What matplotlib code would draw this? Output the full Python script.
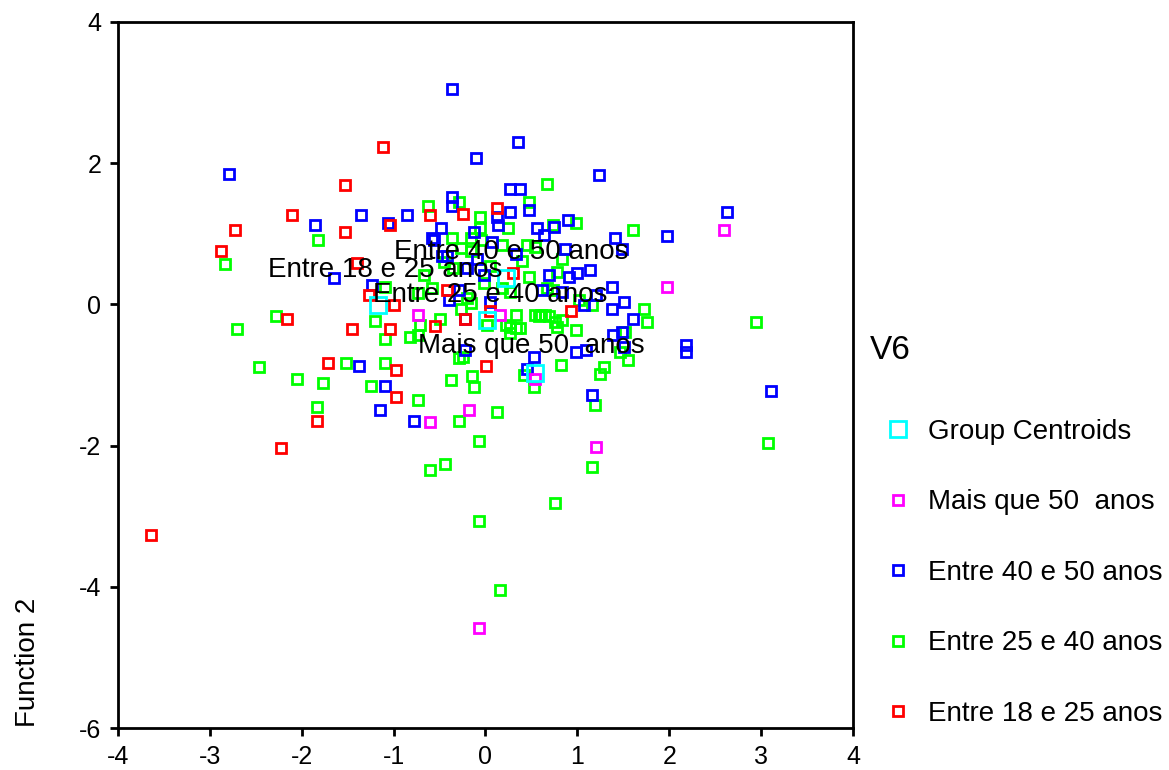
import matplotlib
matplotlib.use("Agg")
import matplotlib.pyplot as plt
from matplotlib.lines import Line2D

plt.rcParams['font.family'] = ['Liberation Sans', 'DejaVu Sans']
plt.rcParams['axes.unicode_minus'] = False

# ---- data (Function 1, Function 2) per group ----
red_x = [-2.88, -2.73, -2.11, -1.53, -1.53, -1.12, -1.40, -2.16, -1.45, -1.71, -1.83, -2.23, -3.64,
         -1.04, -0.60, -0.24, 0.12, 0.30, -1.27, -1.00, -0.22, 0.05, -1.04, -0.55, 0.93, 0.01,
         -0.97, -0.97, -0.42]
red_y = [0.76, 1.05, 1.27, 1.69, 1.02, 2.23, 0.58, -0.20, -0.35, -0.83, -1.65, -2.04, -3.26,
         1.12, 1.27, 1.28, 1.36, 0.44, 0.13, -0.01, -0.20, -0.09, -0.35, -0.31, -0.09, -0.87,
         -1.31, -0.93, 0.20]

mag_x = [2.60, 1.98, -0.74, 0.16, 0.54, -0.18, -0.60, 1.20, -0.07]
mag_y = [1.05, 0.24, -0.15, -0.15, -1.05, -1.50, -1.67, -2.02, -4.58]

blue_x = [-2.79, -1.86, -1.36, -1.65, -1.38, -0.36, 0.35, -0.10, 1.24, 0.27, 0.38, -0.36, -0.36,
          0.47, 0.27, -0.85, -1.06, 0.13, 0.14, 0.56, 0.90, -0.48, -0.13, -0.58, 0.64, 2.63,
          1.98, 1.41, 2.18, 2.18, 3.11, 1.38, 1.51, 1.38, 1.61, 1.39, 1.51, 1.16, 1.14, -1.23,
          1.00, 0.91, 1.07, 0.98, 1.09, 0.53, 0.45, -0.22, -0.78, -1.15, -1.09, -0.56, 0.07,
          -0.42, -0.47, -0.09, -0.20, -0.02, -0.29, -0.40, 0.05, 0.75, 0.33, 1.49, 0.87, 0.69,
          1.20, 0.62, 0.83, 1.49, -0.22]
blue_y = [1.85, 1.12, 1.27, 0.38, -0.87, 3.05, 2.30, 2.08, 1.83, 1.64, 1.64, 1.52, 1.40,
          1.34, 1.31, 1.27, 1.16, 1.24, 1.12, 1.08, 1.20, 1.08, 1.02, 0.94, 0.98, 1.31,
          0.97, 0.94, -0.57, -0.67, -1.23, 0.25, 0.04, -0.06, -0.20, -0.43, -0.60, -1.28, 0.49, 0.27,
          0.44, 0.39, -0.01, -0.67, -0.65, -0.74, -0.91, -0.65, -1.65, -1.50, -1.16, 0.91, 0.89,
          0.68, 0.68, 0.65, 0.51, 0.42, 0.20, 0.06, 0.04, 1.10, 0.72, 0.79, 0.79, 0.42,
          0.13, 0.20, 0.18, -0.39, -0.20]

green_x = [-1.82, -2.84, -2.28, -2.71, -1.52, -2.46, -2.05, -1.77, -1.83, -0.60, -0.44, -0.07,
           -0.07, 0.16, 0.76, 1.16, 3.07, 0.67, -0.29, -0.63, 0.47, -0.06, -0.06, 0.24, 0.73,
           0.98, 1.61, 2.94, 1.73, 1.76, 1.52, 1.46, 1.55, 1.29, 1.25, 1.19, 1.16, -1.20, -0.71,
           -0.82, -0.74, -1.09, -0.49, -0.27, 0.27, 0.38, 0.27, 0.58, 0.69, 0.78, 0.82, 0.42,
           0.53, -0.29, -0.24, -0.38, -0.15, -0.13, 0.13, -0.29, -0.74, -1.25, -1.09, 0.02,
           -0.36, -0.16, -0.05, -0.27, -0.16, -0.35, -0.67, -1.09, -0.58, -0.20, -0.16, -0.73,
           0.45, 0.54, 0.18, 0.83, 0.47, 0.78, 0.18, 0.27, 0.67, 0.74, 1.02, 0.54, 0.60, 0.65,
           0.33, 0.76, 0.83, 0.98, 0.22, 0.33, -0.45, 0.05, 0.40, -0.02]
green_y = [0.91, 0.57, -0.16, -0.35, -0.83, -0.89, -1.05, -1.12, -1.45, -2.34, -2.26, -1.94,
           -3.07, -4.04, -2.82, -2.30, -1.97, 1.71, 1.45, 1.40, 1.45, 1.24, 1.08, 1.08, 1.12,
           1.16, 1.05, -0.25, -0.06, -0.25, -0.39, -0.67, -0.79, -0.88, -0.98, -1.42, -0.01, -0.24, -0.29,
           -0.46, -0.43, -0.49, -0.20, -0.06, -0.32, -0.34, -0.41, -0.17, -0.17, -0.32, -0.86, -1.00,
           -1.17, -0.76, -0.74, -1.07, -1.02, -1.17, -1.52, -1.65, -1.35, -1.16, -0.83, -0.29,
           0.94, 0.94, 0.91, 0.80, 0.75, 0.51, 0.42, 0.25, 0.23, 0.09, 0.02, 0.16,
           0.84, 0.82, 0.84, 0.65, 0.39, 0.46, 0.23, 0.18, 0.23, 0.20, 0.06, -0.15, -0.15, -0.15,
           -0.15, -0.25, -0.22, -0.36, -0.29, -0.34, 0.60, 0.55, 0.62, 0.30]

cent_labels = ["Entre 40 e 50 anos", "Entre 18 e 25 anos", "Entre 25 e 40 anos", "Mais que 50  anos"]
cent_x = [0.22, -1.17, 0.02, 0.54]
cent_y = [0.37, -0.01, -0.22, -0.97]
# label offsets (points) relative to centroid
lab_dx = [4, 5, 2, -3]
lab_dy = [19, 25, 18, 19]

legend_labels = ["Group Centroids", "Mais que 50  anos", "Entre 40 e 50 anos",
                 "Entre 25 e 40 anos", "Entre 18 e 25 anos"]

# ---- figure ----
fig = plt.figure(figsize=(11.69, 7.70), dpi=100)
ax = fig.add_axes([118/1169, 1-728/770, (853-118)/1169, (728-22)/770])

ms, mew = 7.2, 2.0
ax.plot(green_x, green_y, 's', ms=ms, mfc='none', mec='#00FF00', mew=mew, ls='none')
ax.plot(blue_x, blue_y, 's', ms=ms, mfc='none', mec='#0000FF', mew=mew, ls='none')
ax.plot(red_x, red_y, 's', ms=ms, mfc='none', mec='#FF0000', mew=mew, ls='none')
ax.plot(mag_x, mag_y, 's', ms=ms, mfc='none', mec='#FF00FF', mew=mew, ls='none')
ax.plot(cent_x, cent_y, 's', ms=11.5, mfc='none', mec='#00FFFF', mew=2.0, ls='none')

for lab, cx, cy, dx, dy in zip(cent_labels, cent_x, cent_y, lab_dx, lab_dy):
    ax.annotate(lab, (cx, cy), xytext=(dx, dy), textcoords='offset points',
                ha='center', va='center', fontsize=20, color='black')

ax.set_xlim(-4, 4)
ax.set_ylim(-6, 4)
ax.set_xticks(range(-4, 5))
ax.set_yticks(range(-6, 5, 2))
ax.tick_params(axis='both', direction='out', length=6, width=2, labelsize=18, pad=6,
               top=False, right=False)
for sp in ax.spines.values():
    sp.set_linewidth(2)

fig.text(28/1169, 1-662/770, "Function 2", rotation=90, fontsize=20,
         ha='center', va='center')

# legend
handles = [Line2D([], [], marker='s', ms=11.5, mfc='none', mec='#00FFFF', mew=2.0, ls='none'),
           Line2D([], [], marker='s', ms=ms, mfc='none', mec='#FF00FF', mew=mew, ls='none'),
           Line2D([], [], marker='s', ms=ms, mfc='none', mec='#0000FF', mew=mew, ls='none'),
           Line2D([], [], marker='s', ms=ms, mfc='none', mec='#00FF00', mew=mew, ls='none'),
           Line2D([], [], marker='s', ms=ms, mfc='none', mec='#FF0000', mew=mew, ls='none')]
fig.legend(handles, legend_labels, loc='upper left', bbox_to_anchor=(884/1169, 1-419/770),
           frameon=False, fontsize=20, borderpad=0, borderaxespad=0, handlelength=1.0,
           handletextpad=0.58, labelspacing=1.6)
fig.text(870/1169, 1-350/770, "V6", fontsize=24, ha='left', va='center')

fig.savefig("out.png", dpi=100)
